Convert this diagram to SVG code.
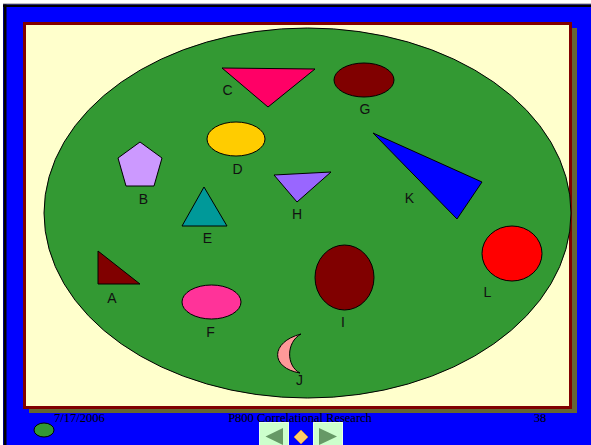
<svg xmlns="http://www.w3.org/2000/svg" width="591" height="445" viewBox="0 0 591 445">
<style>
.shp{stroke:#000;stroke-width:1}
.lbl{font-family:"Liberation Sans",Arial,sans-serif;font-size:14px;fill:#111;text-anchor:middle}
.ftr{font-family:"Liberation Serif","Times New Roman",serif;font-size:12.5px;fill:#000}
</style>
<rect x="0" y="0" width="591" height="445" fill="#fff"/>
<rect x="3" y="3" width="588" height="442" fill="#0000ff"/>
<rect x="3" y="3" width="588" height="1.5" fill="#c0c0c0"/>
<rect x="3" y="4.5" width="588" height="2.5" fill="#000"/>
<rect x="3.5" y="4.5" width="3" height="440.5" fill="#000"/>
<rect x="29" y="28" width="548" height="385" fill="#666633"/>
<rect x="24.5" y="23.5" width="546" height="384" fill="#ffffcc" stroke="#800000" stroke-width="3"/>
<g id="footer">
<text class="ftr" x="54" y="422">7/17/2006</text>
<text class="ftr" x="300" y="422" text-anchor="middle">P800 Correlational Research</text>
<text class="ftr" x="540" y="422" text-anchor="middle">38</text>
<ellipse cx="44" cy="430" rx="10" ry="7" fill="#339933" stroke="#000" stroke-width="1"/>
</g>
<ellipse id="field" cx="307.5" cy="213" rx="263.5" ry="185" fill="#339933" stroke="#000" stroke-width="1"/>
<g id="A"><polygon class="shp" points="98,251 98,284 140,284" fill="#800000"/><text class="lbl" x="112" y="303">A</text></g>
<g id="B"><polygon class="shp" points="140,142 162,158 154,186 126,186 118,158" fill="#cc99ff"/><text class="lbl" x="143.5" y="204">B</text></g>
<g id="C"><polygon class="shp" points="222,68 315,69 268,107" fill="#ff0066"/><text class="lbl" x="227.5" y="95">C</text></g>
<g id="D"><ellipse class="shp" cx="236" cy="139" rx="29" ry="17" fill="#ffcc00"/><text class="lbl" x="237.5" y="174">D</text></g>
<g id="E"><polygon class="shp" points="204,187 182,226 227,226" fill="#009999"/><text class="lbl" x="207.5" y="243">E</text></g>
<g id="F"><ellipse class="shp" cx="211.5" cy="302" rx="29.5" ry="17" fill="#ff3399"/><text class="lbl" x="210.5" y="337">F</text></g>
<g id="G"><ellipse class="shp" cx="364" cy="80" rx="30" ry="17" fill="#800000"/><text class="lbl" x="365" y="114">G</text></g>
<g id="H"><polygon class="shp" points="274,175 331,172 297,202" fill="#9966ff"/><text class="lbl" x="297" y="219">H</text></g>
<g id="I"><ellipse class="shp" cx="344.5" cy="277.5" rx="29.5" ry="32.5" fill="#800000"/><text class="lbl" x="343" y="327">I</text></g>
<g id="J"><path class="shp" d="M301,334 C270,342 270,368 300,373 C286,366 286,342 301,334 Z" fill="#ff9999"/><text class="lbl" x="299.5" y="385">J</text></g>
<g id="K"><polygon class="shp" points="373,133 482,182 457,219" fill="#0000ff"/><text class="lbl" x="409.5" y="203">K</text></g>
<g id="L"><ellipse class="shp" cx="512" cy="253.5" rx="30" ry="27.5" fill="#ff0000"/><text class="lbl" x="487.5" y="297">L</text></g>
<g id="nav">
<rect x="259.5" y="422.5" width="29" height="24" fill="#ccffcc" stroke="#e8ffe8" stroke-width="1"/>
<polygon points="265.5,436.5 283,428 283,445" fill="#669966"/>
<polygon points="301,430 308,437 301,444 294,437" fill="#ffcc66" stroke="#ff9900" stroke-width="0.5"/>
<rect x="313.5" y="422.5" width="29" height="24" fill="#ccffcc" stroke="#e8ffe8" stroke-width="1"/>
<polygon points="337,436.5 319,428 319,445" fill="#669966"/>
</g>
</svg>
